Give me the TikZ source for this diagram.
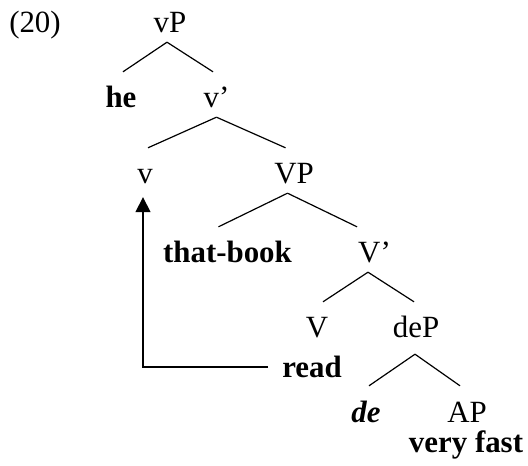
\documentclass[tikz,border=0pt]{standalone}
\usepackage{fontspec}
\setmainfont{Liberation Serif}
\usetikzlibrary{arrows.meta,positioning}
\tikzset{
  cat/.style={inner sep=0pt, text height=36bp, text depth=9bp, font=\fontsize{31}{36}\selectfont},
  branch/.style={line width=1.2bp},
  move/.style={line width=1.6bp, -{Triangle[width=15bp,length=15bp]}}
}
\begin{document}
\begin{tikzpicture}[x=1bp, y=1bp, on grid]
		\useasboundingbox (0,0) rectangle (528,466);
		\node[cat, anchor=base] (vP) at (170,433) {vP};
		\node[cat, left=135bp of vP] (ex) {(20)};
		\node[cat, below left=75bp and 49bp of vP] (he) {\textbf{he}};
		\node[cat, below right=75bp and 46.5bp of vP] (vbar) {v’};
		\node[cat, below left=76bp and 71.5bp of vbar] (v) {v};
		\node[cat, below right=76bp and 77.5bp of vbar] (VP) {VP};
		\node[cat, below left=79bp and 66.5bp of VP] (thatbook) {\textbf{that-book}};
		\node[cat, below right=79bp and 80.5bp of VP] (Vbar) {V’};
		\node[cat, below left=75bp and 57.5bp of Vbar] (V) {V};
		\node[cat, below right=75bp and 41.5bp of Vbar] (deP) {deP};
		\node[cat, below left=39bp and 5bp of V] (read) {\textbf{read}};
		\node[cat, below left=84bp and 50bp of deP] (de) {\textbf{\textit{de}}};
		\node[cat, below right=84bp and 51bp of deP] (AP) {AP};
		\node[cat, below left=30bp and 1bp of AP] (fast) {\textbf{very fast}};
		
		\draw[branch] ([xshift=-3bp]vP.south) -- ([xshift=2bp]he.north);
		\draw[branch] ([xshift=-3bp]vP.south) -- ([xshift=-3.5bp]vbar.north);
		\draw[branch] (vbar.south) -- ([xshift=3bp]v.north);
		\draw[branch] (vbar.south) -- ([xshift=-8.5bp]VP.north);
		\draw[branch] ([xshift=-6.5bp]VP.south) -- ([xshift=-9bp]thatbook.north);
		\draw[branch] ([xshift=-6.5bp]VP.south) -- ([xshift=-17.5bp]Vbar.north);
		\draw[branch] ([xshift=-6.5bp]Vbar.south) -- ([xshift=6bp]V.north);
		\draw[branch] ([xshift=-6.5bp]Vbar.south) -- ([xshift=-2bp]deP.north);
		\draw[branch] ([xshift=-1bp, yshift=-7bp]deP.south) -- ([xshift=3bp]de.north);
		\draw[branch] ([xshift=-1bp, yshift=-7bp]deP.south) -- ([xshift=-7bp]AP.north);
		
		\draw[move] ([xshift=-14bp, yshift=-3.5bp]read.west) -| ([xshift=-2bp, yshift=-4bp]v.south); % head movement
	\end{tikzpicture}
\end{document}
